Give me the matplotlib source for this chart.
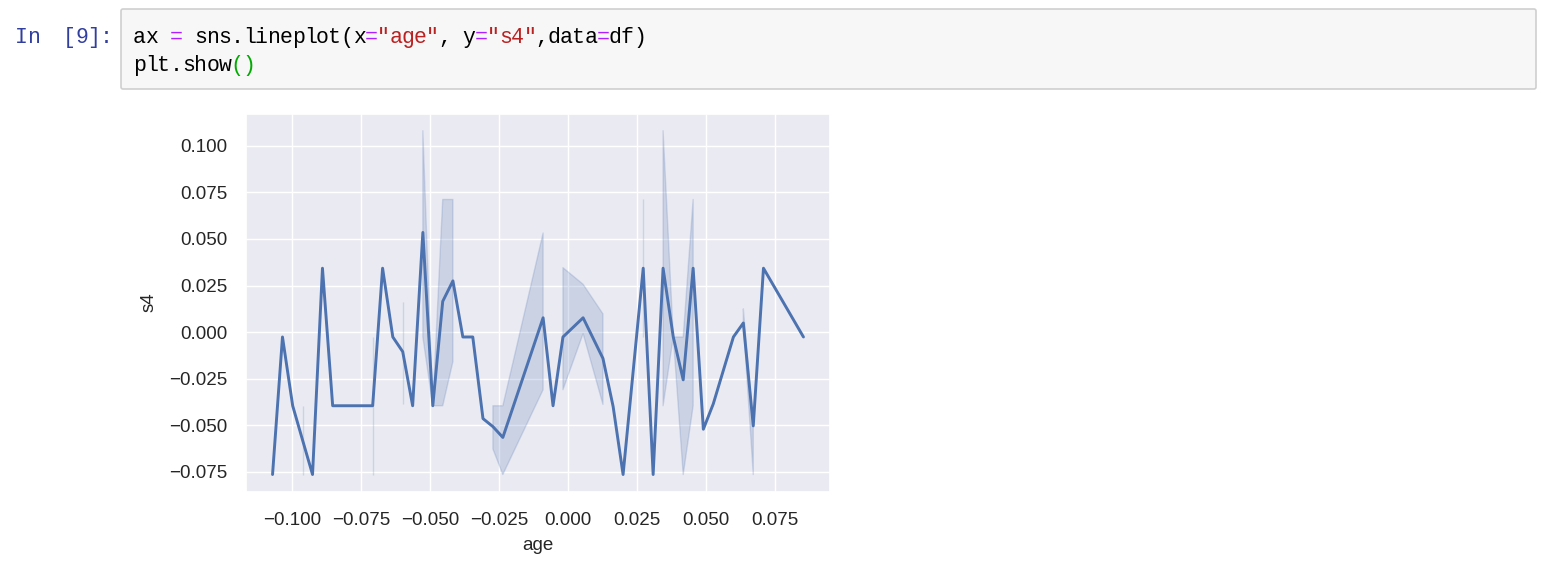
import matplotlib
matplotlib.use("Agg")
import matplotlib.pyplot as plt
from matplotlib.patches import FancyBboxPatch
from matplotlib.ticker import MultipleLocator
import numpy as np
import seaborn as sns

nan = np.nan

# valeurs : moyenne de s4 par age et intervalle de confiance
# (nan = un seul echantillon, donc pas de bande)
age = [-0.1072, -0.1036, -0.0999, -0.0963, -0.0927, -0.0891, -0.0854, -0.0709,
       -0.0673, -0.0636, -0.0600, -0.0564, -0.0527, -0.0491, -0.0455, -0.0418,
       -0.0382, -0.0346, -0.0309, -0.0273, -0.0237, -0.0091, -0.0055, -0.0019,
       0.0054, 0.0126, 0.0163, 0.0199, 0.0272, 0.0308, 0.0344, 0.0381,
       0.0417, 0.0453, 0.0490, 0.0526, 0.0599, 0.0635, 0.0671, 0.0708, 0.0853]
s4_mean = [-0.0764, -0.0026, -0.0395, -0.0580, -0.0764, 0.0343, -0.0395, -0.0395,
           0.0343, -0.0026, -0.0105, -0.0395, 0.0535, -0.0395, 0.0165, 0.0275,
           -0.0026, -0.0026, -0.0464, -0.0507, -0.0565, 0.0077, -0.0395, -0.0026,
           0.0077, -0.0141, -0.0400, -0.0764, 0.0343, -0.0764, 0.0343, -0.0026,
           -0.0256, 0.0343, -0.0521, -0.0385, -0.0026, 0.0049, -0.0503, 0.0343, -0.0026]
s4_lo = [nan, nan, nan, -0.0764, nan, nan, nan, -0.0764,
         nan, nan, -0.0388, nan, -0.0026, -0.0395, -0.0395, -0.0158,
         nan, nan, nan, -0.0627, -0.0764, -0.0309, nan, -0.0309,
         -0.0008, -0.0388, nan, nan, -0.0026, nan, -0.0395, -0.0026,
         -0.0764, -0.0395, nan, nan, nan, 0.0049, -0.0764, nan, nan]
s4_hi = [nan, nan, nan, -0.0395, nan, nan, nan, -0.0026,
         nan, nan, 0.0160, nan, 0.1081, -0.0395, 0.0712, 0.0712,
         nan, nan, nan, -0.0395, -0.0395, 0.0532, nan, 0.0346,
         0.0257, 0.0098, nan, nan, 0.0712, nan, 0.1081, -0.0026,
         -0.0026, 0.0712, nan, nan, nan, 0.0125, -0.0503, nan, nan]

# texte de la cellule du notebook
prompt = ["In", "[9]:"]
code_lines = [
    [("ax ", "#000000"), ("=", "#AA22FF"), (" sns.lineplot(x", "#000000"), ("=", "#AA22FF"),
     ('"age"', "#BA2121"), (", y", "#000000"), ("=", "#AA22FF"), ('"s4"', "#BA2121"),
     (",data", "#000000"), ("=", "#AA22FF"), ("df)", "#000000")],
    [("plt.show", "#000000"), ("()", "#00AA00")],
]

sns.set_theme(style="darkgrid")
plt.rcParams["font.family"] = ["Liberation Sans", "DejaVu Sans"]

W, H = 1548, 571
fig = plt.figure(figsize=(W / 100, H / 100), dpi=100)

# calque en pixels pour la partie notebook
bg = fig.add_axes([0, 0, 1, 1])
bg.set_xlim(0, W)
bg.set_ylim(H, 0)
bg.axis("off")
bg.add_patch(FancyBboxPatch((121, 9), 1415, 80, boxstyle="round,pad=0,rounding_size=2",
                            facecolor="#f7f7f7", edgecolor="#cfcfcf", lw=1.2))
mono = dict(family="Liberation Mono", fontsize=15.5, va="baseline")
char_w = 12.2
for word, x0 in zip(prompt, [15, 63]):
    for k, ch in enumerate(word):
        bg.text(x0 + k * char_w, 43, ch, color="#303F9F", **mono)
for li, segs in enumerate(code_lines):
    col = 0
    for s, c in segs:
        for ch in s:
            if ch != " ":
                bg.text(133 + col * char_w, 43 + li * 28, ch, color=c, **mono)
            col += 1

# le graphique
ax = fig.add_axes([246 / W, (H - 491.7) / H, (830 - 246) / W, (491.7 - 113.5) / H])
blue = "#4C72B0"
ax.fill_between(age, s4_lo, s4_hi, color=blue, alpha=0.2, lw=1)
ax.plot(age, s4_mean, color=blue, lw=2.1)
ax.xaxis.set_major_locator(MultipleLocator(0.025))
ax.yaxis.set_major_locator(MultipleLocator(0.025))
ax.tick_params(axis="x", labelsize=13.5, pad=8.5, colors="#262626")
ax.tick_params(axis="y", labelsize=13.5, pad=7.5, colors="#262626")
ax.set_xlabel("age", fontsize=13.5, labelpad=6, color="#262626")
ax.set_ylabel("s4", fontsize=13.5, labelpad=8.5, color="#262626")

fig.savefig("out.png", dpi=100)
